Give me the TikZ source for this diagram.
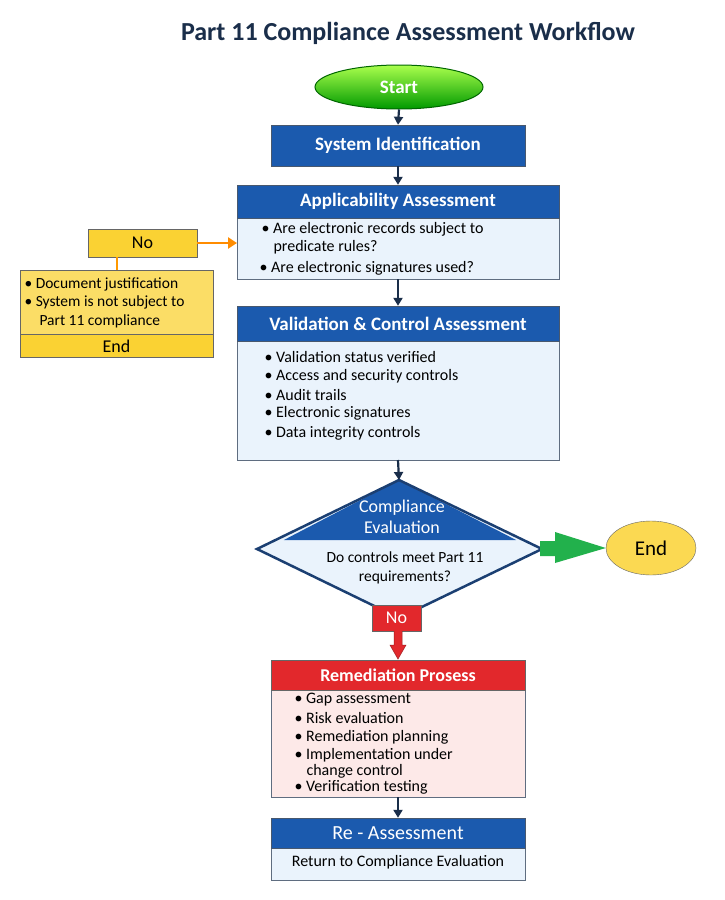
\documentclass[tikz,border=0pt]{standalone}
\usepackage{fontspec}
\setmainfont{Carlito}
\usetikzlibrary{arrows.meta,shapes.geometric}
\definecolor{hblue}{HTML}{1B5AAE}
\definecolor{lblue}{HTML}{EAF3FC}
\definecolor{navy}{HTML}{1A2E4A}
\definecolor{ylw}{HTML}{FAD233}
\definecolor{hred}{HTML}{E2282C}
\definecolor{lpink}{HTML}{FDE9E8}
\definecolor{grn}{HTML}{22B14C}
\begin{document}
\begin{tikzpicture}[x=1pt,y=-1pt,
  hdr/.style={draw=navy!80,fill=hblue,text=white,font=\bfseries\fontsize{19}{21}\selectfont},
  body/.style={draw=navy!70,fill=lblue,line width=0.8pt},
  arr/.style={-{Triangle[length=8pt,width=9pt]},line width=2.2pt,draw=navy},
  txt/.style={anchor=west,font=\fontsize{16}{18}\selectfont,text=black}]
\useasboundingbox (0,0) rectangle (724,900);
\fill[white] (0,0) rectangle (724,900);
\node[font=\bfseries\fontsize{26}{30}\selectfont,text=navy] (title) at (408,33) {Part 11 Compliance Assessment Workflow};
% start
\node[ellipse,draw=green!40!black,line width=1pt,top color=green!30!lime!70,bottom color=green!60!black,minimum width=168,minimum height=44,inner sep=0,text=white,font=\bfseries\fontsize{19}{21}\selectfont] (start) at (399,87) {Start};
% system id
\node[hdr,minimum width=254,minimum height=41,inner sep=0] (sys) at (398,145.5) {System Identification};
% applicability
\draw[body] (237,185) rectangle (559,279);
\node[hdr,minimum width=322,minimum height=33,inner sep=0] (app) at (398,201.5) {Applicability Assessment};
\node[txt] (a1) at (258,229) {• Are electronic records subject to};
\node[txt] (a2) at (270,247) {predicate rules?};
\node[txt] (a3) at (256,268) {• Are electronic signatures used?};
\coordinate (appW) at (237,243);
\coordinate (appS) at (398,279);
% No yellow
\node[draw=black!60,fill=ylw,minimum width=109,minimum height=28,inner sep=0,font=\fontsize{18}{20}\selectfont] (no1) at (142.5,243) {No};
\draw[-{Triangle[length=9pt,width=11pt]},line width=2.8pt,draw=orange!90!yellow] (no1.east) -- (appW);
\draw[body,draw=black!60,fill=ylw!75] (20,270) rectangle (213,357);
\draw[line width=0.8pt,draw=black!60,fill=ylw] (20,334) rectangle (213,357);
\node[font=\fontsize{18}{20}\selectfont] (end1) at (116.5,346) {End};
\coordinate (lbtop) at (117,270);
\draw[line width=2.5pt,draw=orange!80!yellow] (117,257) -- (lbtop);
\node[txt,font=\fontsize{15.5}{18}\selectfont] (l1) at (21,284) {• Document justification};
\node[txt,font=\fontsize{15.5}{18}\selectfont] (l2) at (21,302) {• System is not subject to};
\node[txt,font=\fontsize{15.5}{18}\selectfont] (l3) at (36,321) {Part 11 compliance};
% validation
\draw[body] (237,306) rectangle (559,460);
\node[hdr,minimum width=322,minimum height=35,inner sep=0] (val) at (398,323.5) {Validation \& Control Assessment};
\draw[arr] (appS) -- (val.north);
\node[txt] (v1) at (261,357) {• Validation status verified};
\node[txt] (v2) at (261,376) {• Access and security controls};
\node[txt] (v3) at (261,395) {• Audit trails};
\node[txt] (v4) at (261,413) {• Electronic signatures};
\node[txt] (v5) at (261,433) {• Data integrity controls};
\coordinate (valS) at (398,460);
% diamond
\coordinate (dT) at (399,480);
\coordinate (dL) at (257,549);
\coordinate (dR) at (542,549);
\coordinate (dB) at (399,618);
\fill[lblue] (dT) -- (dR) -- (dB) -- (dL) -- cycle;
\fill[hblue] (dT) -- (283.9,540) -- (516.1,540) -- cycle;
\draw[navy!60!hblue,line width=2.5pt,line join=miter] (dT) -- (dR) -- (dB) -- (dL) -- cycle;
\node[font=\fontsize{18}{21}\selectfont,text=white,align=center] (ce) at (402,517) {Compliance\\Evaluation};
\node[font=\fontsize{15.5}{19}\selectfont,align=center] (dq) at (405,568) {Do controls meet Part 11\\requirements?};
\draw[arr] (valS) -- (dT);
% End ellipse
\node[ellipse,draw=black!60,fill=ylw!85,minimum width=90,minimum height=54,inner sep=0,font=\fontsize{21}{23}\selectfont] (end2) at (651,548) {End};
\fill[grn] (540,541) -- (555,541) -- (555,532) -- (end2.west) -- (555,563) -- (555,556) -- (540,556) -- cycle;
% No red
\node[draw=black!60,fill=hred,text=white,minimum width=49,minimum height=26,inner sep=0,font=\fontsize{18}{20}\selectfont] (no2) at (396.5,618) {No};
% remediation
\draw[body,fill=lpink] (271,660) rectangle (525,797);
\node[draw=black!60,fill=hred,text=white,font=\bfseries\fontsize{18}{20}\selectfont,minimum width=254,minimum height=30,inner sep=0] (rem) at (398,675) {Remediation Prosess};
\fill[hred] (394,631) -- (402,631) -- (402,645) -- (406,645) -- (398,659) -- (390,645) -- (394,645) -- cycle;
\draw[hred!70!black,line width=0.5pt] (394,631) -- (394,645) -- (390,645) -- (398,659) -- (406,645) -- (402,645) -- (402,631);
\node[txt] (r1) at (291,700) {• Gap assessment};
\node[txt] (r2) at (291,718) {• Risk evaluation};
\node[txt] (r3) at (291,737) {• Remediation planning};
\node[txt] (r4) at (291,755) {• Implementation under};
\node[txt] (r5) at (303,771) {change control};
\node[txt] (r6) at (291,787) {• Verification testing};
\coordinate (remS) at (398,797);
% re-assessment
\draw[body] (271,818) rectangle (525,880);
\node[hdr,font=\fontsize{20}{22}\selectfont,minimum width=254,minimum height=30,inner sep=0] (rea) at (398,833) {Re - Assessment};
\node[font=\fontsize{16}{18}\selectfont] (ret) at (398,862) {Return to Compliance Evaluation};
\draw[arr] (remS) -- (rea.north);
\draw[arr] (start.south) -- (sys.north);
\draw[arr] (sys.south) -- (app.north);
\end{tikzpicture}
\end{document}
